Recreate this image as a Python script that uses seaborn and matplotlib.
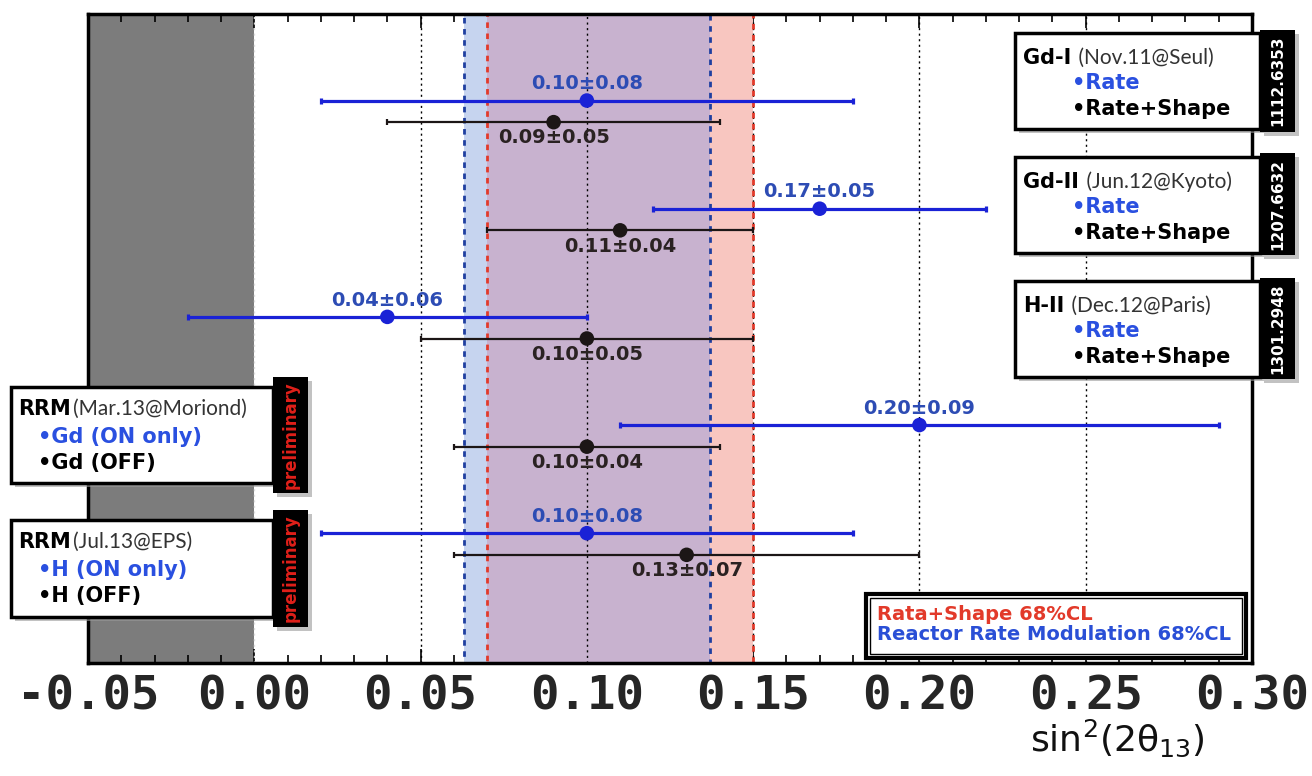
import numpy as np
import pandas as pd
import matplotlib.pyplot as plt
import seaborn as sns
from matplotlib.patches import Rectangle

# Double Chooz theta13 results
results = ["Gd-I", "Gd-II", "H-II", "RRM Gd", "RRM H"]
rate_val = [0.10, 0.17, 0.04, 0.20, 0.10]      # blue: Rate / ON only
rate_err = [0.08, 0.05, 0.06, 0.09, 0.08]
shape_val = [0.09, 0.11, 0.10, 0.10, 0.13]     # black: Rate+Shape / OFF
shape_err = [0.05, 0.04, 0.05, 0.04, 0.07]

rs_band = (0.07, 0.15)      # Rate+Shape 68% CL
rrm_band = (0.063, 0.137)   # Reactor Rate Modulation 68% CL
unphysical = (-0.05, 0.0)

xticks = [-0.05, 0.00, 0.05, 0.10, 0.15, 0.20, 0.25, 0.30]
xticklabels = ["-0.05", "0.00", "0.05", "0.10", "0.15", "0.20", "0.25", "0.30"]

BLUE = "#1a22d6"
BLUE_TXT = "#2d4cb4"
BLACK = "#1c1616"

rows = []
for i, r in enumerate(results):
    rows.append(dict(result=r, kind="rate", value=rate_val[i], err=rate_err[i], ypos=i + 0.8))
    rows.append(dict(result=r, kind="shape", value=shape_val[i], err=shape_err[i], ypos=i + 1.0))
df = pd.DataFrame(rows)

sns.set_theme(style="white")
plt.rcParams["font.family"] = ["DejaVu Sans"]
plt.rcParams["mathtext.default"] = "regular"

W, H = 1312, 776
fig = plt.figure(figsize=(W / 100, H / 100), dpi=100)
ax = fig.add_axes([88 / W, 1 - 663 / H, (1252 - 88) / W, (663 - 14) / H])

# bands
ax.axvspan(*unphysical, color="#7c7c7c", lw=0, zorder=0.5)
ax.axvspan(*rrm_band, color="#c6d4ef", lw=0, zorder=0.6)
ax.axvspan(*rs_band, color="#f8c6c0", lw=0, zorder=0.6)
ax.axvspan(max(rs_band[0], rrm_band[0]), min(rs_band[1], rrm_band[1]),
           color="#c8b2cf", lw=0, zorder=0.7)
ax.axvspan(*rrm_band, fill=False, edgecolor="#1f3fa0", ls=(0, (2, 2)), lw=2, zorder=1.6)
ax.axvspan(*rs_band, fill=False, edgecolor="#e23a2a", ls=(0, (2, 2)), lw=2, zorder=1.7)

for t in xticks[1:-1]:
    ax.axvline(t, color="black" if t != 0 else "#dddddd", ls=(0, (1.5, 2.5)), lw=1, zorder=1.5)

# error bars and points
for kind, col, lw in [("rate", BLUE, 2.3), ("shape", BLACK, 1.6)]:
    d = df[df["kind"] == kind]
    ax.errorbar(d["value"], d["ypos"], xerr=d["err"], fmt="none", ecolor=col,
                elinewidth=lw, capsize=2, capthick=lw, zorder=3)
sns.scatterplot(data=df, x="value", y="ypos", hue="kind",
                palette={"rate": BLUE, "shape": BLACK}, s=110, linewidth=0,
                legend=False, ax=ax, zorder=4)

for _, r in df.iterrows():
    txt = f"{r['value']:.2f}±{r['err']:.2f}"
    if r["kind"] == "rate":
        ax.text(r["value"], r["ypos"] - 0.155, txt, ha="center", va="center",
                color=BLUE_TXT, fontsize=14, fontweight="bold", zorder=5)
    else:
        ax.text(r["value"], r["ypos"] + 0.145, txt, ha="center", va="center",
                color="#2a2222", fontsize=14, fontweight="bold", zorder=5)

ax.set_xlim(-0.05, 0.30)
ax.set_ylim(6, 0)
ax.set_yticks([])
ax.set_xticks(xticks)
ax.set_xticklabels(xticklabels, fontsize=34, fontweight="bold", family="DejaVu Sans Mono")
ax.set_xticks(np.arange(-0.05, 0.30, 0.01), minor=True)
ax.tick_params(axis="x", which="both", direction="in", top=True, bottom=True,
               color="black", width=1.2)
ax.tick_params(axis="x", which="major", length=10, pad=8)
ax.tick_params(axis="x", which="minor", length=6)
ax.set_xlabel("")
ax.set_ylabel("")
for s in ax.spines.values():
    s.set_color("black")
    s.set_linewidth(2.5)

fig.text(1205 / W, 1 - 738 / H, r"sin$^2$(2$\theta_{13}$)", ha="right", va="center",
         fontsize=26, color="#111111")


def fx(x):
    return x / W


def fy(y):
    return 1 - y / H


def rect(x0, y0, x1, y1, fc="white", ec="black", lw=2.5, shadow=True, z=5):
    if shadow:
        fig.add_artist(Rectangle((fx(x0 + 4), fy(y1 + 4)), (x1 - x0) / W, (y1 - y0) / H,
                                 transform=fig.transFigure, fc="#9a9a9a", ec="none",
                                 alpha=0.6, zorder=z - 0.1))
    fig.add_artist(Rectangle((fx(x0), fy(y1)), (x1 - x0) / W, (y1 - y0) / H,
                             transform=fig.transFigure, fc=fc, ec=ec, lw=lw, zorder=z))


renderer = fig.canvas.get_renderer()


def title_line(x, y, bold, rest, size=15):
    t = fig.text(fx(x), fy(y), bold, ha="left", va="baseline", fontsize=size,
                 fontweight="bold", color="black", zorder=7)
    x1 = t.get_window_extent(renderer).x1
    fig.text(x1 / W + 2 / W, fy(y), rest, ha="left", va="baseline", fontsize=size,
             family="Lato", color="#333333", zorder=7)


def item(x, y, s, col, size=15):
    fig.text(fx(x), fy(y), s, ha="left", va="baseline", fontsize=size,
             fontweight="bold", color=col, zorder=7)


# right-hand boxes (published results)
right_boxes = [
    (33, 129, 30, 132, "Gd-I", "(Nov.11@Seul)", "1112.6353"),
    (157, 253, 153, 255, "Gd-II", "(Jun.12@Kyoto)", "1207.6632"),
    (281, 377, 278, 379, "H-II", "(Dec.12@Paris)", "1301.2948"),
]
for top, bot, ttop, tbot, name, rest, arx in right_boxes:
    rect(1015, top, 1260, bot)
    rect(1260, ttop, 1295, tbot, fc="black", lw=0, z=5.5)
    fig.text(fx(1278), fy((ttop + tbot) / 2), arx, rotation=90, ha="center", va="center",
             fontsize=11, fontweight="bold", color="white", zorder=7)
    h = bot - top
    title_line(1023, top + 0.32 * h, name, " " + rest)
    item(1072, top + 0.58 * h, "•Rate", "#2a50e0")
    item(1072, top + 0.85 * h, "•Rate+Shape", "black")

# left-hand boxes (preliminary reactor rate modulation)
left_boxes = [
    (387, 483, 377, 493, "(Mar.13@Moriond)", "•Gd (ON only)", "•Gd (OFF)"),
    (520, 617, 510, 627, "(Jul.13@EPS)", "•H (ON only)", "•H (OFF)"),
]
for top, bot, ttop, tbot, rest, on, off in left_boxes:
    rect(11, top, 273, bot)
    rect(273, ttop, 308, tbot, fc="black", lw=0, z=5.5)
    fig.text(fx(291), fy((ttop + tbot) / 2), "preliminary", rotation=90, ha="center",
             va="center", fontsize=12, fontweight="bold", color="#e0201a", zorder=7)
    h = bot - top
    title_line(18, top + 0.29 * h, "RRM", rest)
    item(38, top + 0.58 * h, on, "#2a50e0")
    item(38, top + 0.85 * h, off, "black")

# band legend
rect(866, 594, 1246, 658, lw=3, shadow=False)
rect(870, 598, 1242, 654, lw=1, shadow=False, z=5.2)
fig.text(fx(877), fy(614), "Rata+Shape 68%CL", ha="left", va="center", fontsize=14,
         fontweight="bold", color="#e23a2a", zorder=7)
fig.text(fx(877), fy(635), "Reactor Rate Modulation 68%CL", ha="left", va="center",
         fontsize=14, fontweight="bold", color="#2a4fd6", zorder=7)

fig.savefig("out.png", dpi=100)
